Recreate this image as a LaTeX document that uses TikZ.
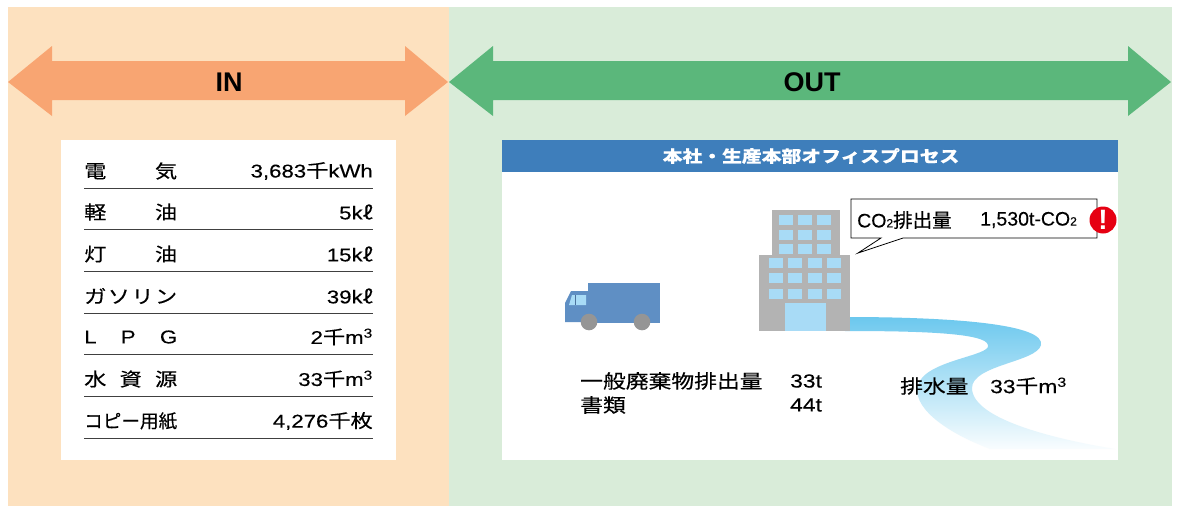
\documentclass[tikz,border=0pt]{standalone}
\usepackage{fontspec}
\setmainfont{Liberation Sans}[FakeStretch=1.2, FakeBold=0.25]
\newfontfamily\jp{Noto Sans CJK JP}[FakeStretch=1.2, FakeBold=0.3]
\newfontfamily\bub{Liberation Sans}[FakeBold=0.25]
\newfontfamily\bubjp{Noto Sans CJK JP}[FakeBold=0.3]
\newfontfamily\headfont{Liberation Sans}
\usepackage{tikz}
\definecolor{INpanel}{RGB}{253,225,191}
\definecolor{INorange}{RGB}{248,165,114}
\definecolor{OUTpanel}{RGB}{217,236,217}
\definecolor{OUTgreen}{RGB}{91,183,123}
\definecolor{BarBlue}{RGB}{62,126,187}
\definecolor{TruckBlue}{RGB}{95,143,196}
\definecolor{WinBlue}{RGB}{168,219,246}
\definecolor{WallGray}{RGB}{179,179,179}
\definecolor{WheelGray}{RGB}{149,149,149}
\definecolor{River}{RGB}{108,200,238}
\definecolor{AlertRed}{RGB}{230,0,18}

\begin{document}
\begin{tikzpicture}[x=1pt, y=-1pt,
    every node/.style={inner sep=0pt},
    head/.style={font=\headfont\bfseries\fontsize{27}{27}\selectfont},
    tbl/.style={font=\fontsize{18.5}{18.5}\selectfont},
    lbl/.style={tbl, anchor=west},
    val/.style={tbl, anchor=east},
    body/.style={font=\fontsize{19}{19}\selectfont, anchor=west},
    say/.style={font=\bub\fontsize{19.5}{19.5}\selectfont, anchor=west},
    rule/.style={draw=black!75, line width=1pt},
    win/.style={fill=WinBlue}]
    \useasboundingbox (0,0) rectangle (1178,506);

    % IN / OUT panels
    \fill[INpanel] (8,7) rectangle (449,506);
    \fill[OUTpanel] (449,7) rectangle (1172,506);
    \fill[INorange] (8,82) -- (52,46) -- (52,61) -- (405,61) -- (405,46) -- (448,82)
        -- (405,116) -- (405,100) -- (52,100) -- (52,116) -- cycle;
    \fill[OUTgreen] (449,82) -- (493,46) -- (493,61) -- (1128,61) -- (1128,46) -- (1171,82)
        -- (1128,116) -- (1128,100) -- (493,100) -- (493,116) -- cycle;
    \node[head] (in) at (229,82) {IN};
    \node[head] (out) at (812,82) {OUT};

    % input table
    \fill[white] (61,140) rectangle (396,460);
    \node[lbl] (elec) at (84,171) {\jp\makebox[93pt]{電\hfill 気}};
    \node[val] (elecv) at (373,171) {3,683{\jp 千}kWh};
    \node[lbl] (diesel) at (84,212) {\jp\makebox[93pt]{軽\hfill 油}};
    \node[val] (dieselv) at (373,212) {5k{\jp ℓ}};
    \node[lbl] (kero) at (84,254) {\jp\makebox[93pt]{灯\hfill 油}};
    \node[val] (kerov) at (373,254) {15k{\jp ℓ}};
    \node[lbl] (gas) at (84,296) {\jp\makebox[93pt]{ガ\hfill ソ\hfill リ\hfill ン}};
    \node[val] (gasv) at (373,296) {39k{\jp ℓ}};
    \node[lbl] (lpg) at (84,337) {\makebox[93pt]{L\hfill P\hfill G}};
    \node[val] (lpgv) at (373,337) {2{\jp 千}m\textsuperscript{3}};
    \node[lbl] (water) at (84,379) {\jp\makebox[93pt]{水\hfill 資\hfill 源}};
    \node[val] (waterv) at (373,379) {33{\jp 千}m\textsuperscript{3}};
    \node[lbl] (paper) at (84,421) {\jp\resizebox{93pt}{\height}{コピー用紙}};
    \node[val] (paperv) at (373,421) {4,276{\jp 千枚}};
    \foreach \y in {188,229,271,313,354,396,438}
        \draw[rule] (84,\y) -- (373,\y);

    % office process
    \fill[white] (502,140) rectangle (1118,460);
    \fill[BarBlue] (502,140) rectangle (1118,172);
    \node[font=\jp\bfseries\fontsize{16.5}{16.5}\selectfont, text=white] (office) at (811,156) {本社・生産本部オフィスプロセス};

    % river
    \shade[top color=River, middle color=River!85!white, bottom color=River!4!white]
        (845,317) .. controls (960,317) and (1045,325) .. (1041,345)
        .. controls (1037,362) and (972,365) .. (972,388)
        .. controls (972,420) and (1060,440) .. (1115,449)
        -- (990,449)
        .. controls (940,430) and (912,405) .. (918,385)
        .. controls (925,360) and (992,356) .. (988,345)
        .. controls (986,333) and (920,331) .. (845,331) -- cycle;

    % building
    \fill[WallGray] (772,210) rectangle (840,255);
    \fill[WallGray] (759,255) rectangle (850,331);
    \fill[WinBlue] (785,303) rectangle (826,331);
    \foreach \x in {779,798,817}
        \foreach \y in {215,230,244}
            \fill[win] (\x,\y) rectangle ++(14,10);
    \foreach \x in {769,788,808,827}
        \foreach \y in {258,273,289}
            \fill[win] (\x,\y) rectangle ++(14,10);

    % truck
    \fill[TruckBlue] (588,283) rectangle (660,323);
    \fill[TruckBlue] (565,322) -- (565,303) -- (571,291) -- (590,291) -- (590,322) -- cycle;
    \fill[WinBlue] (569,305) -- (572,295) -- (586,295) -- (586,305) -- cycle;
    \draw[TruckBlue!80!black, line width=0.6pt] (575,295) -- (575,305);
    \fill[WheelGray] (589,322) circle[radius=8.3pt];
    \fill[WheelGray] (642,322) circle[radius=8.3pt];

    % CO2 callout
    \draw[fill=white, line width=0.8pt] (851,199) -- (1097,199) -- (1097,238) -- (903,238)
        -- (858,253) -- (881,238) -- (851,238) -- cycle;
    \node[say] (co2) at (857,220) {CO{\fontsize{12}{12}\selectfont 2}{\bubjp 排出量}};
    \node[say] (co2v) at (980,220) {1,530t-CO{\fontsize{12}{12}\selectfont 2}};
    \fill[AlertRed] (1103,220) circle[radius=13.5pt];
    \node[font=\headfont\bfseries\fontsize{28}{28}\selectfont, text=white] (alert) at (1103,220) {!};

    % outputs
    \node[body] (waste) at (580,381) {\jp 一般廃棄物排出量};
    \node[body] (wastev) at (790,381) {33t};
    \node[body] (docs) at (580,405) {\jp 書類};
    \node[body] (docsv) at (790,405) {44t};
    \node[body] (drain) at (900,386) {\jp 排水量};
    \node[body] (drainv) at (990,386) {33{\jp 千}m\textsuperscript{3}};
\end{tikzpicture}
\end{document}
